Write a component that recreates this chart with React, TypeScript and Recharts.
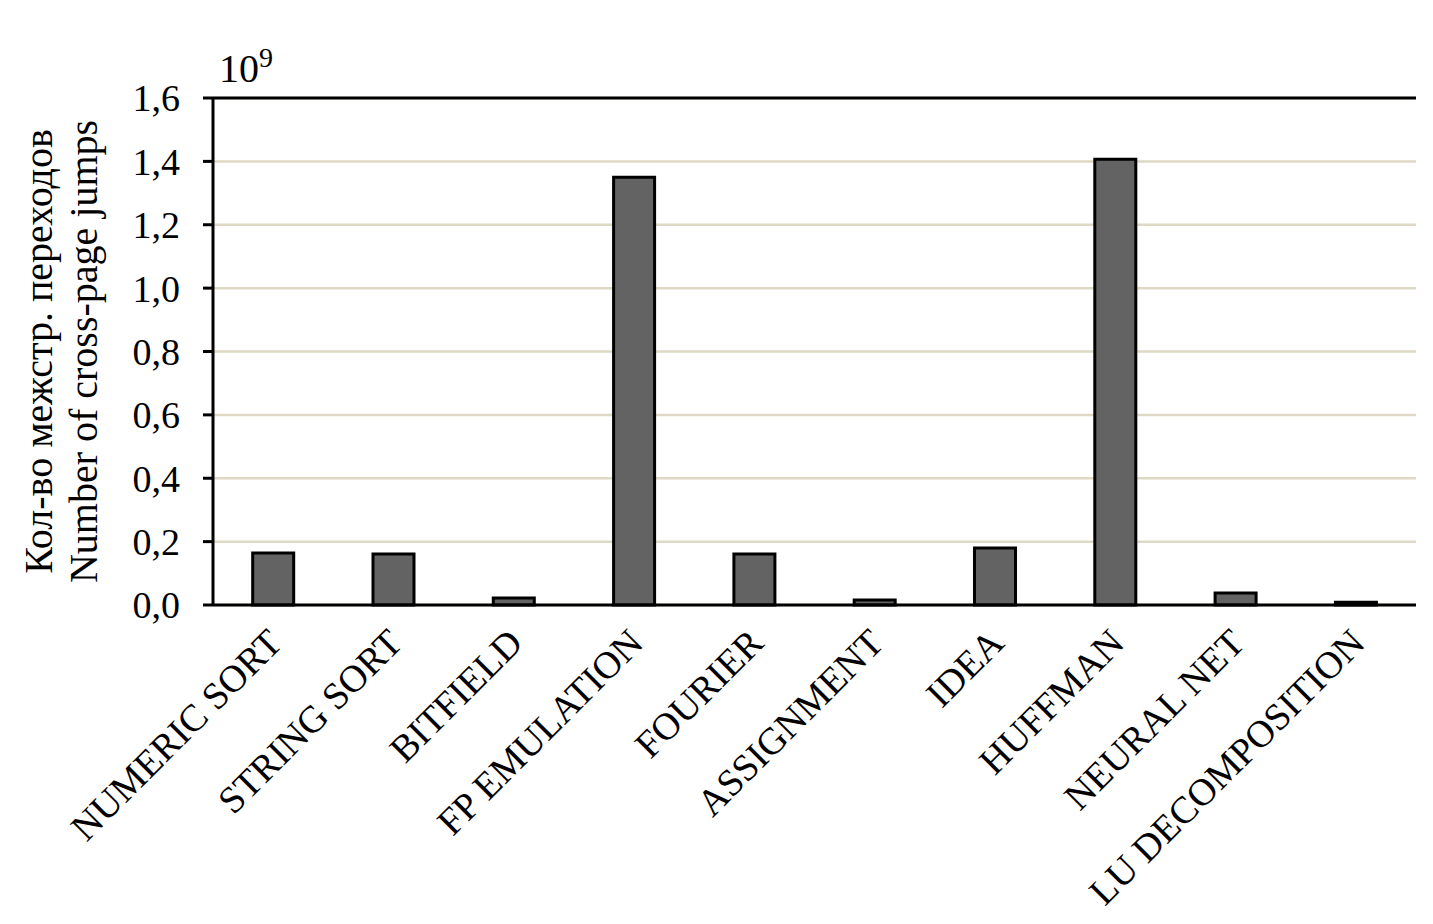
import { BarChart, Bar, XAxis, YAxis, CartesianGrid, ReferenceLine, Label } from 'recharts'

const categories = [
  'NUMERIC SORT',
  'STRING SORT',
  'BITFIELD',
  'FP EMULATION',
  'FOURIER',
  'ASSIGNMENT',
  'IDEA',
  'HUFFMAN',
  'NEURAL NET',
  'LU DECOMPOSITION',
]

// values in units of 10^9
const jumps = [0.164, 0.161, 0.022, 1.35, 0.161, 0.016, 0.18, 1.407, 0.038, 0.009]

const yTicks = [0, 0.2, 0.4, 0.6, 0.8, 1.0, 1.2, 1.4, 1.6]

const FONT = '"Liberation Serif", serif'

const data = categories.map((name, i) => ({ name, value: jumps[i] }))

function XTick({ x, y, payload }: any) {
  const tx = x + 11
  const ty = y + 40
  return (
    <text
      x={tx}
      y={ty}
      transform={`rotate(-45, ${tx}, ${ty})`}
      textAnchor="end"
      fontFamily={FONT}
      fontSize={38}
      fill="#000"
    >
      {payload.value}
    </text>
  )
}

function YTitle({ viewBox }: any) {
  const cy = viewBox.y + viewBox.height / 2
  const right = viewBox.x + viewBox.width
  return (
    <g fontFamily={FONT} fill="#000">
      <text x={52} y={cy} transform={`rotate(-90, 52, ${cy})`} textAnchor="middle" fontSize={40}>
        Кол-во межстр. переходов
      </text>
      <text x={97} y={cy} transform={`rotate(-90, 97, ${cy})`} textAnchor="middle" fontSize={40}>
        Number of cross-page jumps
      </text>
      <text x={right + 6} y={viewBox.y - 16} fontSize={40}>
        10
        <tspan dy={-15} fontSize={28}>
          9
        </tspan>
      </text>
    </g>
  )
}

export default function App() {
  return (
    <div style={{ position: 'absolute', left: 0, top: 0, background: '#fff' }}>
      <BarChart
        width={1433}
        height={924}
        data={data}
        margin={{ top: 98, right: 17, bottom: 0, left: 0 }}
        barCategoryGap="33%"
      >
        <CartesianGrid vertical={false} stroke="#DDD9C4" strokeWidth={2.5} />
        <XAxis
          dataKey="name"
          interval={0}
          height={319}
          tickLine={false}
          tickSize={0}
          tickMargin={0}
          axisLine={{ stroke: '#000', strokeWidth: 3 }}
          tick={<XTick />}
        />
        <YAxis
          width={213}
          domain={[0, 1.6]}
          ticks={yTicks}
          tickSize={10}
          tickMargin={23}
          tickLine={{ stroke: '#000', strokeWidth: 3 }}
          axisLine={{ stroke: '#000', strokeWidth: 3 }}
          tick={{ fontFamily: FONT, fontSize: 38, fill: '#000' }}
          tickFormatter={(v: number) => v.toFixed(1).replace('.', ',')}
        >
          <Label content={<YTitle />} />
        </YAxis>
        <YAxis
          yAxisId="right"
          orientation="right"
          width={0}
          domain={[0, 1.6]}
          tick={false}
          tickLine={false}
          axisLine={{ stroke: '#000', strokeWidth: 3 }}
        />
        <ReferenceLine y={1.6} stroke="#000" strokeWidth={3} />
        <Bar dataKey="value" fill="#636363" stroke="#000" strokeWidth={3} isAnimationActive={false} />
      </BarChart>
    </div>
  )
}
